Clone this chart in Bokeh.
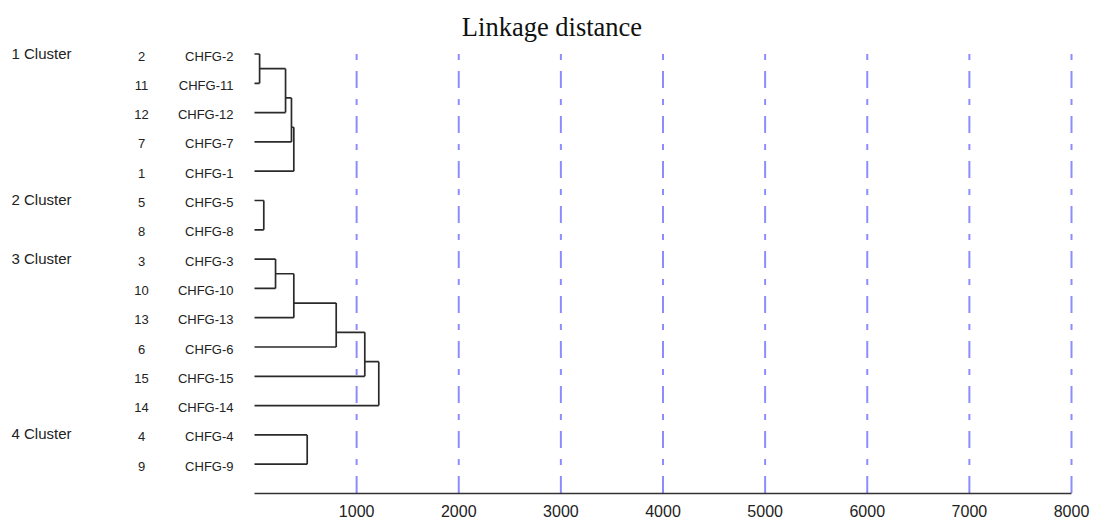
from bokeh.plotting import figure
from bokeh.models import Range1d, FixedTicker, ColumnDataSource
from bokeh.core.properties import value
from bokeh.embed import file_html
from bokeh.resources import INLINE

# ---------------- data ----------------
leaf_numbers = [2, 11, 12, 7, 1, 5, 8, 3, 10, 13, 6, 15, 14, 4, 9]
leaf_names = ["CHFG-%d" % n for n in leaf_numbers]
cluster_names = ["1 Cluster", "2 Cluster", "3 Cluster", "4 Cluster"]
cluster_first_leaf = [2, 5, 3, 4]
# merges: (child a, child b, linkage distance); "mK" refers to merge K
merges = [
    ("2", "11", 50), ("m0", "12", 304), ("m1", "7", 362), ("m2", "1", 385),
    ("5", "8", 91),
    ("3", "10", 206), ("m5", "13", 385), ("m6", "6", 800), ("m7", "15", 1080), ("m8", "14", 1217),
    ("4", "9", 516),
]
x_ticks = [1000, 2000, 3000, 4000, 5000, 6000, 7000, 8000]
x_max = 8000
title_text = "Linkage distance"

# ---------------- layout ----------------
W, H = 1095, 523
left_px = 254          # canvas px where distance 0 sits
axis_len_px = 817      # px from 0 to 8000
row_px = 29.3
bottom_border = 30
scale = axis_len_px / x_max
x_start = -left_px / scale
x_end = x_start + W / scale
frame_h = H - bottom_border
n_rows = len(leaf_numbers)
y_bottom = float(n_rows)
y_top = y_bottom - frame_h / row_px

p = figure(width=W, height=H, output_backend="svg", toolbar_location=None,
           x_range=Range1d(x_start, x_end), y_range=Range1d(y_bottom, y_top),
           y_axis_location=None, min_border_left=0, min_border_right=0,
           min_border_top=0, min_border_bottom=bottom_border)
p.outline_line_color = None
p.grid.visible = False
p.background_fill_color = "white"

# dendrogram geometry
ypos = {str(n): float(i) for i, n in enumerate(leaf_numbers)}
xpos = {str(n): 0.0 for n in leaf_numbers}
is_leaf = {str(n): True for n in leaf_numbers}
hx0, hx1, hy = [], [], []
vx, vy0, vy1 = [], [], []
for k, (a, b, h) in enumerate(merges):
    for c in (a, b):
        hx0.append(xpos[c]); hx1.append(h); hy.append(ypos[c])
    vx.append(h); vy0.append(ypos[a]); vy1.append(ypos[b])
    name = "m%d" % k
    if is_leaf[a] and is_leaf[b]:
        ypos[name] = (ypos[a] + ypos[b]) / 2
    else:
        ypos[name] = (ypos[a] + 2 * ypos[b]) / 3
    xpos[name] = h
    is_leaf[name] = False

# grid lines (dash-dot, blue)
p.segment(x0=x_ticks, x1=x_ticks, y0=[0] * len(x_ticks), y1=[y_bottom] * len(x_ticks),
          line_color="#8c8cff", line_width=2, line_dash="6 11 17 11")

line_col = "#2a2a2a"
p.segment(x0=hx0, x1=hx1, y0=hy, y1=hy, line_color=line_col, line_width=1.7)
p.segment(x0=vx, x1=vx, y0=vy0, y1=vy1, line_color=line_col, line_width=1.7)

# labels
rows = list(range(n_rows))
src = ColumnDataSource(dict(x=[0] * n_rows, y=rows, num=[str(n) for n in leaf_numbers], name=leaf_names))
p.text(x="x", y="y", text="name", source=src, x_offset=-21, y_offset=2,
       text_align="right", text_baseline="middle", text_font=value("Liberation Sans"),
       text_font_size="13px", text_color="#222222")
p.text(x="x", y="y", text="num", source=src, x_offset=-113, y_offset=2,
       text_align="center", text_baseline="middle", text_font=value("Liberation Sans"),
       text_font_size="13px", text_color="#222222")
cl_rows = [leaf_numbers.index(n) for n in cluster_first_leaf]
p.text(x=[0] * len(cl_rows), y=cl_rows, text=cluster_names, x_offset=-243, y_offset=-1,
       text_align="left", text_baseline="middle", text_font=value("Liberation Sans"),
       text_font_size="15px", text_color="#222222")

# title
p.text(x=[(x_start + x_end) / 2 + 4 / scale], y=[-0.70], text=[title_text], y_offset=-6,
       text_align="center", text_baseline="alphabetic", text_font=value("Liberation Serif"),
       text_font_size="26.5px", text_color="#111111")

# x axis
ax = p.xaxis[0]
ax.ticker = FixedTicker(ticks=x_ticks)
ax.bounds = (0, x_max)
ax.axis_line_color = "#333333"
ax.axis_line_width = 1.6
ax.major_tick_in = 0
ax.major_tick_out = 0
ax.minor_tick_line_color = None
ax.major_label_standoff = 11
ax.major_label_text_font = "Liberation Sans"
ax.major_label_text_font_size = "16px"
ax.major_label_text_color = "#222222"

open("out.html", "w").write(file_html(p, INLINE))
